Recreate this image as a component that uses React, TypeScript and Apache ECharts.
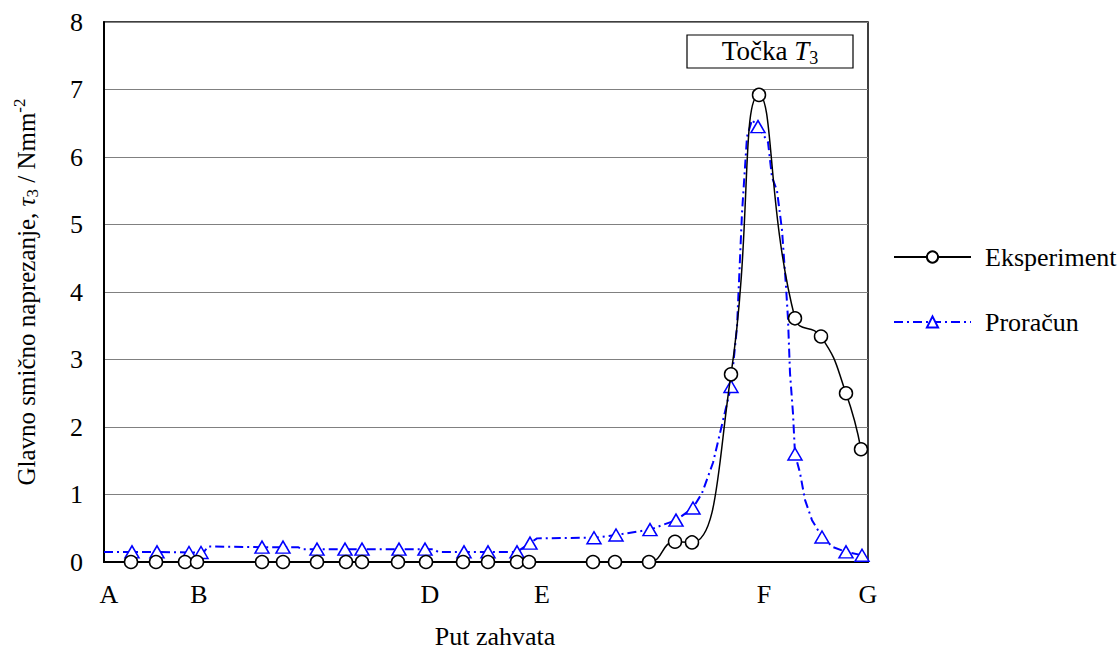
import React, { useEffect, useRef } from "react";
import * as echarts from "echarts";

// Path positions (arbitrary units along the line of action, A = 0, G = 764)
const pathLabels = ["A", "B", "D", "E", "F", "G"];
const pathLabelPos = [5, 95, 326, 438, 660, 764];

// Eksperiment
const expX = [27, 52, 81, 93, 158, 179, 213, 242, 258, 294, 322, 359, 384, 413, 425, 489, 511, 545, 571, 588, 627, 655, 691, 717, 742, 757];
const expY = [0, 0, 0, 0, 0, 0, 0, 0, 0, 0, 0, 0, 0, 0, 0, 0, 0, 0, 0.3, 0.29, 2.78, 6.92, 3.61, 3.34, 2.5, 1.67];

// Proračun (dense calculated curve; marker = 1 where a triangle is drawn)
const calcX = [0, 28, 53, 85, 97, 100, 104, 158, 179, 194, 198, 213, 241, 258, 295, 321, 330, 334, 360, 384, 413, 426, 433, 490, 512, 546, 572, 589, 598, 609, 616, 627, 633, 638, 643, 648, 654, 664, 668, 673, 678, 682, 684, 686, 689, 691, 696, 701, 708, 718, 729, 742, 758];
const calcY = [0.15, 0.15, 0.15, 0.14, 0.14, 0.15, 0.23, 0.22, 0.22, 0.22, 0.19, 0.19, 0.19, 0.19, 0.19, 0.19, 0.19, 0.15, 0.15, 0.15, 0.15, 0.28, 0.35, 0.36, 0.4, 0.48, 0.62, 0.8, 1.02, 1.47, 1.91, 2.6, 3.48, 5.17, 6.3, 6.55, 6.45, 6.22, 5.7, 5.5, 4.92, 4.08, 3.6, 2.8, 2.2, 1.6, 1.32, 0.92, 0.62, 0.37, 0.22, 0.15, 0.1];
const calcMarker = [0, 1, 1, 1, 1, 0, 0, 1, 1, 0, 0, 1, 1, 1, 1, 1, 0, 0, 1, 1, 1, 1, 0, 1, 1, 1, 1, 1, 0, 0, 0, 1, 0, 0, 0, 0, 1, 0, 0, 0, 0, 0, 0, 0, 0, 1, 0, 0, 0, 1, 0, 1, 1];

const yTicks = [0, 1, 2, 3, 4, 5, 6, 7, 8];

const FONT = "'Liberation Serif', 'Times New Roman', serif";

export default function App() {
  const ref = useRef<HTMLDivElement>(null);

  useEffect(() => {
    document.body.style.margin = "0";
    if (!ref.current) return;
    const chart = echarts.init(ref.current, undefined, { renderer: "svg" });

    const expData = expX.map((x, i) => [x, expY[i]]);
    const calcData = calcX.map((x, i) =>
      calcMarker[i] ? [x, calcY[i]] : { value: [x, calcY[i]], symbol: "none" }
    );

    chart.setOption({
      animation: false,
      backgroundColor: "#fff",
      textStyle: { fontFamily: FONT, color: "#000" },
      grid: {
        left: 104,
        top: 22,
        right: 252,
        bottom: 89,
        containLabel: false,
        outerBoundsMode: "none",
        show: true,
        borderColor: "#000",
        borderWidth: 1.5,
        backgroundColor: "transparent",
      },
      legend: {
        orient: "vertical",
        left: 893,
        top: 244,
        padding: 0,
        itemWidth: 77,
        itemHeight: 14,
        itemGap: 39,
        textStyle: {
          fontFamily: FONT,
          fontSize: 26,
          color: "#000",
          lineHeight: 26,
          padding: [0, 0, 0, 9],
        },
        data: ["Eksperiment", "Proračun"],
      },
      xAxis: {
        type: "value",
        min: 0,
        max: 764,
        splitLine: { show: false },
        axisTick: { show: false },
        axisLine: { lineStyle: { color: "#000", width: 2 } },
        axisLabel: {
          customValues: pathLabelPos,
          formatter: (v: number) => {
            const i = pathLabelPos.indexOf(v);
            return i >= 0 ? pathLabels[i] : "";
          },
          fontFamily: FONT,
          fontSize: 26,
          color: "#000",
          margin: 19,
          showMinLabel: true,
          showMaxLabel: true,
        },
        name: "Put zahvata",
        nameLocation: "middle",
        nameGap: 61,
        nameTextStyle: {
          fontFamily: FONT,
          fontSize: 26,
          color: "#000",
          padding: [0, 0, 0, 18],
        },
      },
      yAxis: {
        type: "value",
        min: 0,
        max: 8,
        interval: 1,
        axisTick: { show: false },
        axisLine: { show: true, lineStyle: { color: "#000", width: 2 } },
        splitLine: { lineStyle: { color: "#808080", width: 1 } },
        axisLabel: {
          fontFamily: FONT,
          fontSize: 26,
          color: "#000",
          margin: 21,
          formatter: (v: number) => (yTicks.includes(v) ? String(v) : ""),
        },
        name: "Glavno smično naprezanje, {it|τ}{sub|3} / Nmm{sup|-2}",
        nameLocation: "middle",
        nameGap: 63,
        nameTextStyle: {
          fontFamily: FONT,
          fontSize: 25,
          color: "#000",
          lineHeight: 30,
          rich: {
            it: { fontFamily: FONT, fontSize: 25, fontStyle: "italic", color: "#000", lineHeight: 30 },
            sub: { fontFamily: FONT, fontSize: 17, color: "#000", verticalAlign: "bottom", lineHeight: 18 },
            sup: { fontFamily: FONT, fontSize: 17, color: "#000", verticalAlign: "top", lineHeight: 18 },
          },
        },
      },
      graphic: [
        {
          type: "rect",
          shape: { x: 687, y: 35, width: 166, height: 33 },
          style: { fill: "#fff", stroke: "#000", lineWidth: 1.2 },
          z: 100,
        },
        {
          type: "text",
          x: 770,
          y: 51,
          z: 101,
          style: {
            text: "Točka {it|T}{sub|3}",
            fontFamily: FONT,
            fontSize: 27,
            fill: "#000",
            align: "center",
            verticalAlign: "middle",
            lineHeight: 32,
            rich: {
              it: { fontFamily: FONT, fontSize: 27, fontStyle: "italic", fill: "#000", lineHeight: 32 },
              sub: { fontFamily: FONT, fontSize: 18, fill: "#000", verticalAlign: "bottom", lineHeight: 20 },
            },
          },
        },
      ],
      series: [
        {
          name: "Eksperiment",
          type: "line",
          data: expData,
          smooth: 0.5,
          symbol: "circle",
          symbolSize: 13,
          showAllSymbol: true,
          lineStyle: { color: "#000", width: 1.5 },
          itemStyle: { color: "#fff", borderColor: "#000", borderWidth: 1.5 },
          z: 3,
        },
        {
          name: "Proračun",
          type: "line",
          data: calcData,
          smooth: false,
          symbol: "triangle",
          symbolSize: [14, 12],
          showAllSymbol: true,
          lineStyle: { color: "#0000ff", width: 2, type: [9, 4, 2, 4] },
          itemStyle: { color: "#fff", borderColor: "#0000ff", borderWidth: 1.5 },
          z: 2,
        },
      ],
    });

    return () => chart.dispose();
  }, []);

  return <div ref={ref} style={{ width: 1120, height: 651 }} />;
}
